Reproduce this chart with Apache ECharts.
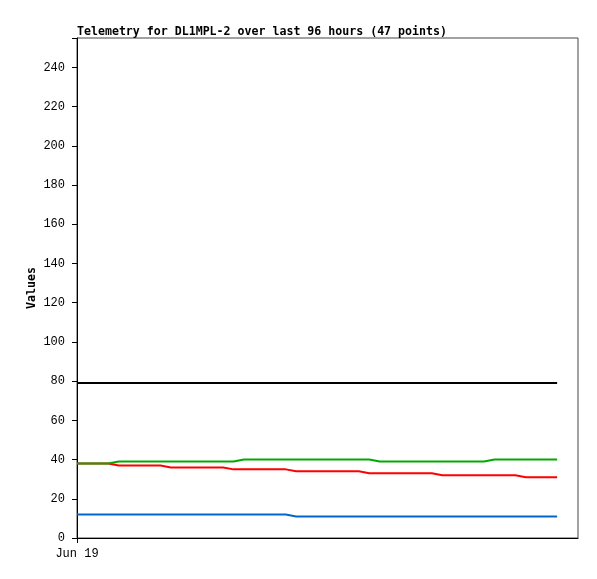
<!DOCTYPE html>
<html>
<head>
<meta charset="utf-8">
<script src="https://cdn.jsdelivr.net/npm/echarts@6/dist/echarts.min.js"></script>
<style>html,body{margin:0;padding:0;background:#fff;}#c{width:597px;height:579px;}</style>
</head>
<body>
<div id="c"></div>
<script>
const titleText = 'Telemetry for DL1MPL-2 over last 96 hours (47 points)';
const yAxisName = 'Values';
const xLabel = 'Jun 19';
const yTicks = [0, 20, 40, 60, 80, 100, 120, 140, 160, 180, 200, 220, 240];
const blackSeries = [79,79,79,79,79,79,79,79,79,79,79,79,79,79,79,79,79,79,79,79,79,79,79,79,79,79,79,79,79,79,79,79,79,79,79,79,79,79,79,79,79,79,79,79,79,79,79];
const blueSeries = [12,12,12,12,12,12,12,12,12,12,12,12,12,12,12,12,12,12,12,12,12,11,11,11,11,11,11,11,11,11,11,11,11,11,11,11,11,11,11,11,11,11,11,11,11,11,11];
const redSeries = [38,38,38,38,37,37,37,37,37,36,36,36,36,36,36,35,35,35,35,35,35,34,34,34,34,34,34,34,33,33,33,33,33,33,33,32,32,32,32,32,32,32,32,31,31,31,31];
const greenSeries = [38,38,38,38,39,39,39,39,39,39,39,39,39,39,39,39,40,40,40,40,40,40,40,40,40,40,40,40,40,39,39,39,39,39,39,39,39,39,39,39,40,40,40,40,40,40,40];

const toPts = arr => arr.map((v, i) => [i, v]);
const mono = 'DejaVu Sans Mono';
const lmono = 'Liberation Mono';
const chart = echarts.init(document.getElementById('c'), null, {renderer: 'canvas'});
const mk = (data, color) => ({
  type: 'line', data: toPts(data), symbol: 'none', animation: false,
  lineStyle: {color: color, width: 2}, itemStyle: {color: color}
});
chart.setOption({
  animation: false,
  backgroundColor: '#fff',
  title: {
    text: titleText, left: 72, top: 21,
    textStyle: {fontFamily: mono, fontWeight: 'bold', fontSize: 11.6, color: '#000'}
  },
  grid: {left: 77, right: 19, top: 38, bottom: 41, show: true, borderColor: '#444', borderWidth: 1, backgroundColor: 'transparent'},
  xAxis: {
    type: 'value', min: 0, max: 48,
    axisLine: {show: true, onZero: false, lineStyle: {color: '#000', width: 1}},
    axisTick: {show: true, length: 5, lineStyle: {color: '#000'}, customValues: [0]},
    axisLabel: {show: true, customValues: [0], formatter: v => (v === 0 ? xLabel : ''), fontFamily: lmono, fontSize: 12, color: '#000', margin: 10},
    splitLine: {show: false}
  },
  yAxis: {
    type: 'value', min: 0, max: 255, interval: 20,
    name: yAxisName, nameLocation: 'middle', nameGap: 39, nameMoveOverlap: false,
    nameTextStyle: {fontFamily: mono, fontWeight: 'bold', fontSize: 11.6, color: '#000'},
    axisLine: {show: true, lineStyle: {color: '#000', width: 1}},
    axisTick: {show: true, length: 5, lineStyle: {color: '#000'}},
    axisLabel: {fontFamily: lmono, fontSize: 12, color: '#000', margin: 12,
      formatter: v => (yTicks.indexOf(v) >= 0 ? String(v) : '')},
    splitLine: {show: false}
  },
  series: [
    mk(blackSeries, '#000000'),
    mk(blueSeries, '#0066cc'),
    mk(redSeries, '#ff0000'),
    mk(greenSeries, '#00aa00')
  ]
});
</script>
</body>
</html>
